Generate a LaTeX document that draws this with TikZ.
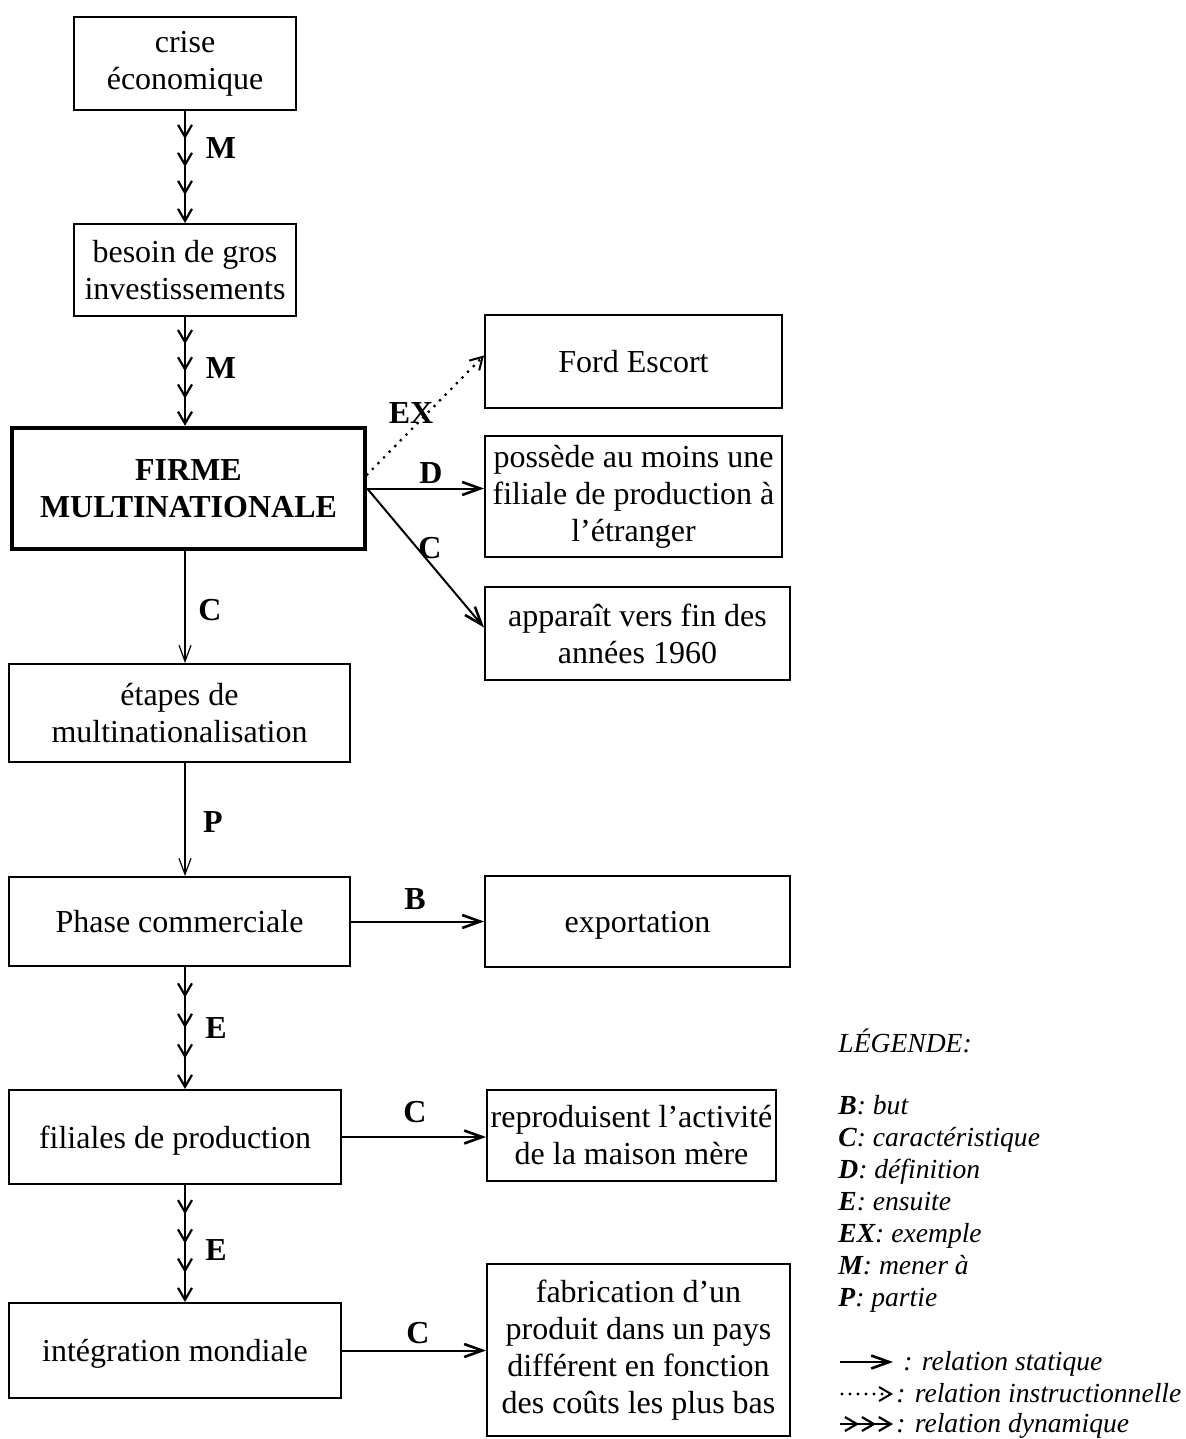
\documentclass[tikz,border=0pt]{standalone}
\usepackage{fontspec}
\setmainfont{Liberation Serif}
\usetikzlibrary{arrows.meta,decorations.markings}

\tikzset{
  chevtip/.tip={Straight Barb[length=6pt,width=7pt,line width=1.1pt]},
  stattip/.tip={Straight Barb[length=9pt,width=6.5pt,line width=1.3pt]},
  fintip/.tip={Straight Barb[length=8pt,width=6pt,line width=0.6pt]},
  box/.style={draw, line width=1pt, align=center, inner sep=0pt,
    font=\fontsize{16}{18.5}\selectfont},
  oneline/.style={text height=13.5pt, text depth=2.5pt},
  mainbox/.style={box, line width=2.2pt, font=\fontsize{16}{18.5}\selectfont\bfseries},
  lbl/.style={inner sep=0pt, font=\fontsize{16}{18}\selectfont\bfseries},
  legtxt/.style={anchor=base west, inner sep=0pt, font=\fontsize{13.8}{16}\selectfont\itshape},
  statarrow/.style={line width=1pt, -{stattip}},
  finearrow/.style={line width=0.6pt, -{fintip}},
  exarrow/.style={line width=1.6pt, line cap=round, dash pattern=on 0pt off 4pt,
    -{Straight Barb[length=6pt,width=7pt,line width=1pt]}},
  dyn/.style={line width=1.3pt, -{chevtip}, postaction={decorate},
    decoration={markings,
      mark=at position 0.25 with {\arrow{chevtip}},
      mark=at position 0.5 with {\arrow{chevtip}},
      mark=at position 0.75 with {\arrow{chevtip}}}},
  dynleg/.style={line width=1.3pt, -{chevtip}, postaction={decorate},
    decoration={markings,
      mark=at position 0.36 with {\arrow{chevtip}},
      mark=at position 0.68 with {\arrow{chevtip}}}},
}

\begin{document}
\begin{tikzpicture}[x=0.5pt,y=-0.5pt]
\useasboundingbox (0,0) rectangle (1186,1439);
\fill[white] (0,0) rectangle (1186,1439);

% main column
\node[box, minimum width=111pt, minimum height=46.5pt] (crise) at (185,63.5) {crise\\économique};
\node[box, minimum width=111pt, minimum height=46pt] (besoin) at (185,270) {besoin de gros\\investissements};
\node[mainbox, minimum width=176.5pt, minimum height=60.5pt] (firme) at (188.5,488.5) {FIRME\\MULTINATIONALE};
\node[box, minimum width=170.5pt, minimum height=49pt] (etapes) at (179.5,713) {étapes de\\multinationalisation};
\node[box, oneline, minimum width=170.5pt, minimum height=44.5pt] (phase) at (179.5,921.5) {Phase commerciale};
\node[box, oneline, minimum width=166pt, minimum height=47pt] (filiales) at (175,1137) {filiales de production};
\node[box, oneline, minimum width=166pt, minimum height=47.5pt] (integ) at (175,1350.5) {intégration mondiale};

% right column
\node[box, oneline, minimum width=148.5pt, minimum height=46.5pt] (ford) at (633.5,361.5) {Ford Escort};
\node[box, minimum width=148.5pt, minimum height=60.5pt] (possede) at (633.5,496.5) {possède au moins une\\filiale de production à\\l’étranger};
\node[box, minimum width=152.5pt, minimum height=46.5pt] (apparait) at (637.5,633.5) {apparaît vers fin des\\années 1960};
\node[box, oneline, minimum width=152.5pt, minimum height=45.5pt] (export) at (637.5,921.5) {exportation};
\node[box, minimum width=144.5pt, minimum height=45.5pt] (reprod) at (631.5,1135.5) {reproduisent l’activité\\de la maison mère};
\node[box, minimum width=151.5pt, minimum height=86pt] (fabric) at (638.5,1350) {fabrication d’un\\produit dans un pays\\différent en fonction\\des coûts les plus bas};

% vertical connectors
\coordinate (axis) at (185,0);
\draw[dyn] (crise.south -| axis) -- (besoin.north -| axis);
\draw[dyn] (besoin.south -| axis) -- (firme.north -| axis);
\draw[finearrow] (firme.south -| axis) -- (etapes.north -| axis);
\draw[finearrow] (etapes.south -| axis) -- (phase.north -| axis);
\draw[dyn] (phase.south -| axis) -- (filiales.north -| axis);
\draw[dyn] (filiales.south -| axis) -- (integ.north -| axis);

% horizontal and oblique connectors
\draw[exarrow] ([yshift=7pt]firme.east) -- ([yshift=3pt]ford.west);
\draw[statarrow] (firme.east) -- (firme.east -| possede.west);
\draw[statarrow] (firme.east) -- ([yshift=3pt]apparait.west);
\draw[statarrow] (phase.east) -- (export.west);
\draw[statarrow] (filiales.east) -- (filiales.east -| reprod.west);
\draw[statarrow] (integ.east) -- (integ.east -| fabric.west);

% relation labels
\node[lbl] (lm1) at (221,148) {M};
\node[lbl] (lm2) at (221,368) {M};
\node[lbl] (lex) at (411,413) {EX};
\node[lbl] (ld) at (431,473) {D};
\node[lbl] (lc1) at (430,548) {C};
\node[lbl] (lc2) at (210,610) {C};
\node[lbl] (lp) at (213,822) {P};
\node[lbl] (lb) at (415,899) {B};
\node[lbl] (le1) at (216,1028) {E};
\node[lbl] (lc3) at (415,1112) {C};
\node[lbl] (le2) at (216,1250) {E};
\node[lbl] (lc4) at (418,1333) {C};

% legend (base lines)
\node[legtxt] (leg) at (838,1052) {LÉGENDE:};
\node[legtxt] (legb) at (838,1114) {\textbf{B}: but};
\node[legtxt] (legc) at (838,1146) {\textbf{C}: caractéristique};
\node[legtxt] (legd) at (838,1178) {\textbf{D}: définition};
\node[legtxt] (lege) at (838,1210) {\textbf{E}: ensuite};
\node[legtxt] (legex) at (838,1242) {\textbf{EX}: exemple};
\node[legtxt] (legm) at (838,1274) {\textbf{M}: mener à};
\node[legtxt] (legp) at (838,1306) {\textbf{P}: partie};

\coordinate (s1) at (840,1362);
\coordinate (s2) at (893,1362);
\draw[statarrow] (s1) -- (s2);
\node[legtxt] (legs) at (903,1370) {: relation statique};

\coordinate (i1) at (842,1394);
\coordinate (i2) at (893,1394);
\draw[exarrow] (i1) -- (i2);
\node[legtxt] (legi) at (896,1402) {: relation instructionnelle};

\coordinate (d1) at (840,1424);
\coordinate (d2) at (893,1424);
\draw[dynleg] (d1) -- (d2);
\node[legtxt] (legy) at (896,1432) {: relation dynamique};
\end{tikzpicture}
\end{document}
